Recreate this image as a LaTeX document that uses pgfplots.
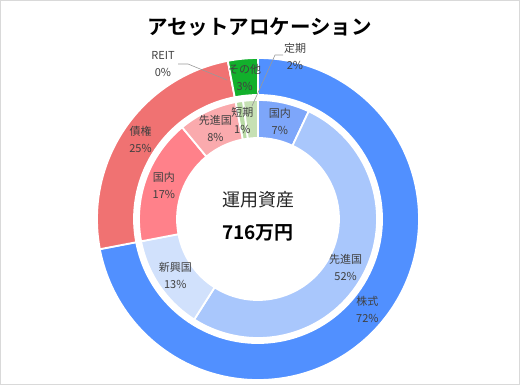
\documentclass[border=0pt]{standalone}
\usepackage{pgfplots}
\pgfplotsset{compat=1.18}
\usepackage{pgfplotstable}
\usepackage{fontspec}
\setmainfont{Noto Sans CJK JP}[BoldFont={Noto Sans CJK JP Bold}]

\definecolor{cOB}{HTML}{5190FF}
\definecolor{cOR}{HTML}{F07272}
\definecolor{cOG}{HTML}{12B02C}
\definecolor{cI1}{HTML}{7DA6FA}
\definecolor{cI2}{HTML}{A9C7FC}
\definecolor{cI3}{HTML}{D1E1FC}
\definecolor{cI4}{HTML}{FF818A}
\definecolor{cI5}{HTML}{FAAAAD}
\definecolor{cI6}{HTML}{B9DBA5}
\definecolor{cI7}{HTML}{C6E0B4}
\definecolor{labc}{HTML}{404040}

\pgfplotstableread[col sep=comma]{
name,value,color,lab
株式,72,cOB,1
債権,25,cOR,1
REIT,0,cOR,0
その他,3,cOG,1
}\outertable

\pgfplotstableread[col sep=comma]{
name,value,color,lab
国内,7,cI1,1
先進国,52,cI2,1
新興国,13,cI3,1
国内,17,cI4,1
先進国,8,cI5,1
短期,1,cI6,1
定期,2,cI7,0
}\innertable

\newcommand\labfont{\fontsize{11bp}{17bp}\selectfont}

% #1 table, #2 inner radius, #3 outer radius, #4 label radius
\newcommand\drawring[4]{%
  \pgfplotstablegetrowsof{#1}%
  \pgfmathtruncatemacro\segN{\pgfplotsretval-1}%
  \def\segcum{0}%
  \pgfmathsetmacro\segdr{#3-#2}%
  \pgfplotsforeachungrouped \ii in {0,...,\segN}{%
    \pgfplotstablegetelem{\ii}{value}\of{#1}\let\segval\pgfplotsretval
    \pgfplotstablegetelem{\ii}{color}\of{#1}\let\segcol\pgfplotsretval
    \pgfmathsetmacro\sega{90-3.6*\segcum}%
    \pgfmathsetmacro\segb{90-3.6*(\segcum+\segval)}%
    \edef\temp{\noexpand\fill[\segcol,draw=white,line width=1.8pt]
      (axis cs:258,166) ++(\sega:#3bp) arc[start angle=\sega,end angle=\segb,radius=#3bp]
      -- ++(\segb:-\segdr bp) arc[start angle=\segb,end angle=\sega,radius=#2bp] -- cycle;}%
    \temp
    \pgfmathsetmacro\segcum{\segcum+\segval}%
  }%
}
\newcommand\labelring[4]{%
  \pgfplotstablegetrowsof{#1}%
  \pgfmathtruncatemacro\segN{\pgfplotsretval-1}%
  \def\segcum{0}%
  \pgfplotsforeachungrouped \ii in {0,...,\segN}{%
    \pgfplotstablegetelem{\ii}{value}\of{#1}\let\segval\pgfplotsretval
    \pgfplotstablegetelem{\ii}{name}\of{#1}\let\segname\pgfplotsretval
    \pgfplotstablegetelem{\ii}{lab}\of{#1}\let\seglab\pgfplotsretval
    \pgfmathsetmacro\sega{90-3.6*\segcum}%
    \pgfmathsetmacro\segb{90-3.6*(\segcum+\segval)}%
    \pgfmathsetmacro\segm{(\sega+\segb)/2}%
    \pgfmathsetmacro\seglx{258+#4*cos(\segm)}%
    \pgfmathsetmacro\segly{166+#4*sin(\segm)}%
    \ifnum\seglab=1
      \edef\temp{\noexpand\node[font=\noexpand\labfont,text=labc,align=center,inner sep=0pt]
        at (axis cs:\seglx,\segly) {\segname\noexpand\\\segval\noexpand\%};}%
      \temp
    \fi
    \pgfmathsetmacro\segcum{\segcum+\segval}%
  }%
}

\begin{document}
\begin{tikzpicture}
\begin{axis}[
  x=1bp, y=1bp,
  xmin=0, xmax=520, ymin=0, ymax=385,
  hide axis, clip=false,
]
\draw[color=black!15, line width=1bp] (axis cs:0.5,0.5) rectangle (axis cs:519.5,384.5);

\drawring{\outertable}{124}{161}{142}
\drawring{\innertable}{81}{119}{100}
\labelring{\outertable}{124}{161}{142}
\labelring{\innertable}{81}{119}{100}

% outside labels with leader lines
\draw[black!40, line width=0.6bp] (axis cs:178,321) -- (axis cs:188,321) -- (axis cs:227,305);
\node[font=\labfont,text=labc,align=center,inner sep=0pt] at (axis cs:163,320.5) {REIT\\0\%};
\draw[black!40, line width=0.6bp] (axis cs:283,330) -- (axis cs:275,330) -- (axis cs:252,279);
\node[font=\labfont,text=labc,align=center,inner sep=0pt] at (axis cs:295,328.5) {定期\\2\%};

% title and centre text
\node[font=\fontsize{20.5bp}{20.5bp}\selectfont\bfseries] at (axis cs:259.5,358) {アセットアロケーション};
\node[font=\fontsize{18bp}{18bp}\selectfont, text=black!85] at (axis cs:258,185) {運用資産};
\node[font=\fontsize{19bp}{19bp}\selectfont\bfseries] at (axis cs:258,152) {716万円};
\end{axis}
\end{tikzpicture}
\end{document}
